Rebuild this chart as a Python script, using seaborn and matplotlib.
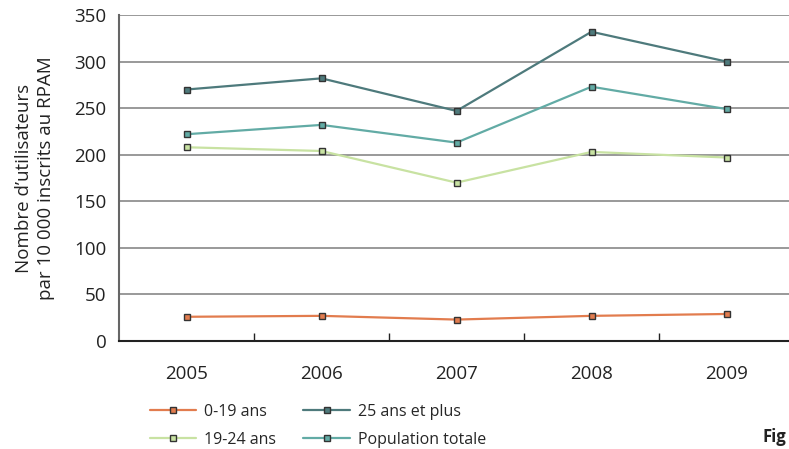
import matplotlib
matplotlib.use("Agg")
import matplotlib.pyplot as plt
import seaborn as sns
import pandas as pd
from matplotlib.ticker import MultipleLocator, FixedLocator

years = ["2005", "2006", "2007", "2008", "2009"]
s_0_19 = [26, 27, 23, 27, 29]
s_19_24 = [208, 204, 170, 203, 197]
s_25p = [270, 282, 247, 332, 300]
s_pop = [222, 232, 213, 273, 249]
labels = ["0-19 ans", "19-24 ans", "25 ans et plus", "Population totale"]
colors = ["#e27c4e", "#c8e2a2", "#4e7a7c", "#62aba5"]

rows = []
for lab, vals in zip(labels, [s_0_19, s_19_24, s_25p, s_pop]):
    for i, (y, v) in enumerate(zip(years, vals)):
        rows.append({"pos": i, "year": y, "value": v, "serie": lab})
df = pd.DataFrame(rows)

sns.set_theme(style="white")
plt.rcParams["font.family"] = ["Open Sans", "DejaVu Sans"]

fig = plt.figure(figsize=(7.89, 4.49), dpi=100)
ax = fig.add_axes([119/789, 1 - 341/449, (794-119)/789, (341-15)/449])

sns.lineplot(data=df, x="pos", y="value", hue="serie", hue_order=labels,
             palette=colors, marker="s", markersize=5, markeredgecolor="#333333",
             markeredgewidth=1.0, linewidth=1.6, ax=ax, legend=False)

ax.set_xlim(-0.5, 4.5)
ax.set_ylim(0, 350)
ax.yaxis.set_major_locator(MultipleLocator(50))
ax.set_xticks(range(len(years)))
ax.set_xticklabels(years)
ax.xaxis.set_minor_locator(FixedLocator([0.5, 1.5, 2.5, 3.5]))
ax.tick_params(axis="x", which="major", length=0, pad=17, labelsize=13.5, colors="#222222")
ax.tick_params(axis="x", which="minor", length=6, width=1, direction="in", color="#222222", bottom=True)
ax.tick_params(axis="y", length=0, pad=9, labelsize=13.5, colors="#222222")
ax.grid(axis="y", color="#999999", linewidth=1.4)
ax.set_axisbelow(True)
for sp in ["top", "right"]:
    ax.spines[sp].set_visible(False)
ax.spines["left"].set_color("#666666")
ax.spines["left"].set_linewidth(1.5)
ax.spines["bottom"].set_color("#222222")
ax.spines["bottom"].set_linewidth(1.5)
ax.set_xlabel("")
ax.set_ylabel("Nombre d\u2019utilisateurs\npar 10 000 inscrits au RPAM", fontsize=13.5,
              color="#222222", linespacing=1.3, labelpad=14)

handles = []
for lab, c in zip(labels, colors):
    h, = ax.plot([], [], color=c, marker="s", markersize=5, markeredgecolor="#333333",
                 markeredgewidth=1.0, linewidth=1.6, label=lab)
    handles.append(h)
fig.legend(handles=handles, labels=labels, ncol=2, loc="upper left",
           bbox_to_anchor=(150/789, 1 - 404/449), frameon=False, fontsize=11.5,
           handlelength=2.9, columnspacing=1.7, labelspacing=0.75, handletextpad=0.5,
           borderaxespad=0, borderpad=0)

fig.text(786/789, 1 - 437/449, "Fig", fontsize=12, fontweight="bold", color="#222222",
         va="center", ha="right")

fig.savefig("out.png", dpi=100)
